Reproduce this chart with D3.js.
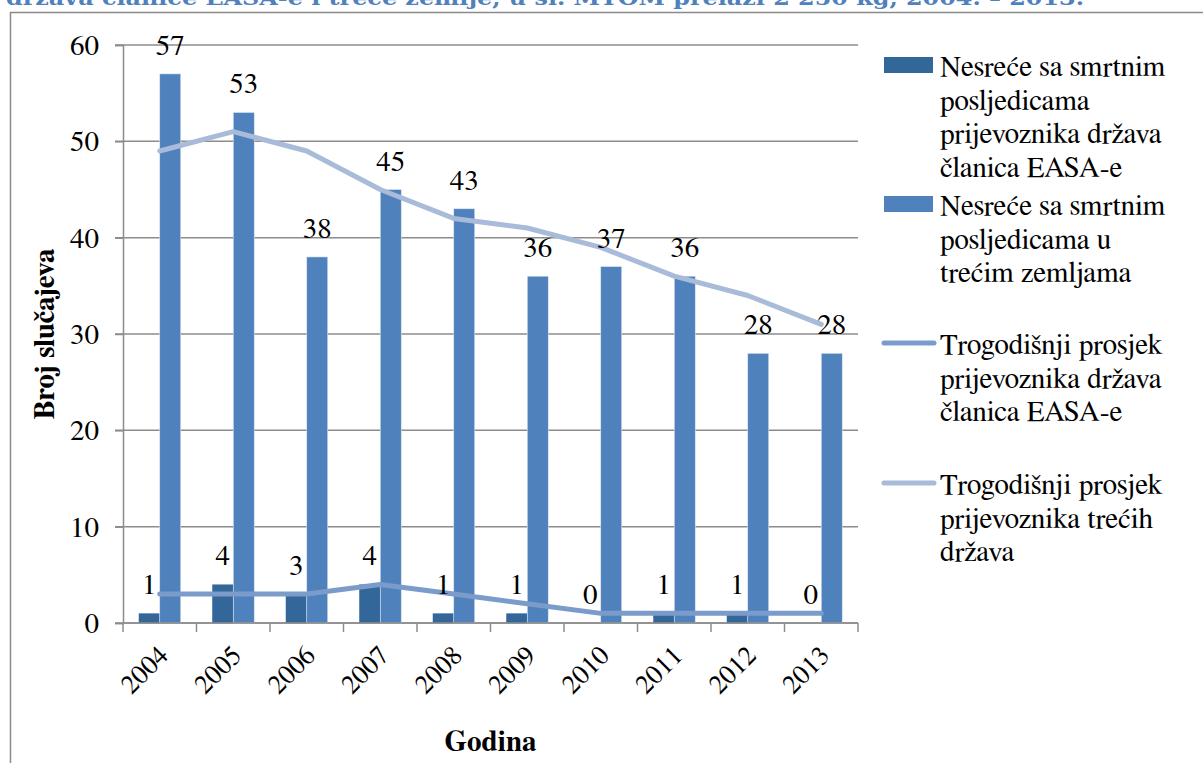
<!DOCTYPE html>
<html>
<head>
<meta charset="utf-8">
<script src="https://cdn.jsdelivr.net/npm/d3@7"></script>
</head>
<body style="margin:0;background:#fff">
<svg id="chart" width="1203" height="763" style="display:block"></svg>
<script>
// ---- data ----
const years = ["2004","2005","2006","2007","2008","2009","2010","2011","2012","2013"];
const easaAccidents = [1,4,3,4,1,1,0,1,1,0];
const thirdAccidents = [57,53,38,45,43,36,37,36,28,28];
const easaAvg = [3,3,3,4,3,2,1,1,1,1];
const thirdAvg = [49,51,49,45,42,41,39,36,34,31];
const yTicks = [0,10,20,30,40,50,60];
const seriesNames = [
  ["Nesreće sa smrtnim","posljedicama","prijevoznika država","članica EASA-e"],
  ["Nesreće sa smrtnim","posljedicama u","trećim zemljama"],
  ["Trogodišnji prosjek","prijevoznika država","članica EASA-e"],
  ["Trogodišnji prosjek","prijevoznika trećih","država"]
];
const titleText = "država članice EASA-e i treće zemlje, u sl. MTOM prelazi 2 250 kg, 2004. – 2013.";
const xTitle = "Godina";
const yTitle = "Broj slučajeva";

// ---- styles ----
const FONT = "Nimbus Roman, FreeSerif, Liberation Serif, Tinos, serif";
const cDark = "#336699", cLight = "#4F81BD", cLine1 = "#7B9BCB", cLine2 = "#A8BBD9";
const grid = "#8c8c8c";

const svg = d3.select("#chart");
const L = 123, R = 858, T = 45, B = 623;

function txt(sel, size, weight) {
  return sel.attr("font-family", FONT).attr("font-size", size)
    .attr("font-weight", weight || "normal").attr("fill", "#000");
}

// frame
svg.append("rect").attr("x", 10.5).attr("y", 12.5).attr("width", 1300).attr("height", 900)
  .attr("fill", "none").attr("stroke", "#8a8a8a").attr("stroke-width", 1.5);

const x0 = d3.scaleBand().domain(years).range([L, R]).paddingInner(0).paddingOuter(0);
const x1 = d3.scaleBand().domain(["a","b"]).range([0, x0.bandwidth()]).paddingInner(0).paddingOuter(0.75);
const y = d3.scaleLinear().domain([0, 60]).range([B, T]);

// gridlines
svg.append("g").selectAll("line").data(yTicks).join("line")
  .attr("x1", L - 8).attr("x2", R).attr("y1", d => y(d)).attr("y2", d => y(d))
  .attr("stroke", grid).attr("stroke-width", 1.5);

// y axis
const yAxis = svg.append("g").attr("transform", `translate(${L},0)`)
  .call(d3.axisLeft(y).tickValues(yTicks).tickSize(8).tickPadding(16));
yAxis.attr("font-family", FONT).attr("font-size", 29);
yAxis.select(".domain").attr("stroke", grid).attr("stroke-width", 1.5);
yAxis.selectAll(".tick line").attr("stroke", grid).attr("stroke-width", 1.5);
txt(yAxis.selectAll(".tick text"), 29).attr("dy", "0.33em");

// bars
const g = svg.append("g");
years.forEach((yr, i) => {
  g.append("rect").attr("x", x0(yr) + x1("a")).attr("width", x1.bandwidth())
    .attr("y", y(easaAccidents[i])).attr("height", B - y(easaAccidents[i]))
    .attr("fill", cDark);
  g.append("rect").attr("x", x0(yr) + x1("b")).attr("width", x1.bandwidth())
    .attr("y", y(thirdAccidents[i])).attr("height", B - y(thirdAccidents[i]))
    .attr("fill", cLight).attr("stroke", "#dfe8f3").attr("stroke-width", 0.6);
});

// x axis line + boundary ticks
svg.append("line").attr("x1", L).attr("x2", R).attr("y1", B).attr("y2", B)
  .attr("stroke", grid).attr("stroke-width", 1.5);
const bounds = years.map(d => x0(d)).concat([x0(years[years.length-1]) + x0.bandwidth()]);
svg.append("g").selectAll("line").data(bounds).join("line")
  .attr("x1", d => d).attr("x2", d => d).attr("y1", B).attr("y2", B + 9)
  .attr("stroke", grid).attr("stroke-width", 1.5);

// x tick labels
const xAxis = svg.append("g").attr("transform", `translate(0,${B})`)
  .call(d3.axisBottom(x0).tickSize(0).tickPadding(0));
xAxis.attr("font-family", FONT).attr("font-size", 27);
xAxis.select(".domain").remove();
txt(xAxis.selectAll(".tick text"), 27)
  .attr("text-anchor", "end").attr("dy", 0).attr("y", 0)
  .attr("transform", "translate(10,34) rotate(-45)");

// lines
const cx = d => x0(d) + x0.bandwidth() / 2;
const lineGen = arr => d3.line().x((d, i) => cx(years[i])).y(d => y(d))(arr);
svg.append("path").attr("d", lineGen(thirdAvg)).attr("fill", "none")
  .attr("stroke", cLine2).attr("stroke-width", 5).attr("stroke-linecap", "round").attr("stroke-linejoin", "round");
svg.append("path").attr("d", lineGen(easaAvg)).attr("fill", "none")
  .attr("stroke", cLine1).attr("stroke-width", 5).attr("stroke-linecap", "round").attr("stroke-linejoin", "round");

// data labels
years.forEach((yr, i) => {
  txt(svg.append("text"), 29).attr("x", x0(yr) + x1("a") + x1.bandwidth()/2).attr("y", y(easaAccidents[i]) - 19)
    .attr("text-anchor", "middle").text(easaAccidents[i]);
  txt(svg.append("text"), 29).attr("x", x0(yr) + x1("b") + x1.bandwidth()/2).attr("y", y(thirdAccidents[i]) - 19)
    .attr("text-anchor", "middle").text(thirdAccidents[i]);
});

// axis titles
txt(svg.append("text"), 29, "bold").attr("x", (L + R) / 2).attr("y", 751).attr("text-anchor", "middle").text(xTitle);
txt(svg.append("text"), 29, "bold").attr("transform", `translate(54,${(T + B) / 2}) rotate(-90)`)
  .attr("text-anchor", "middle").text(yTitle);

// legend
const lg = svg.append("g");
const entryTop = [76, 215, 354, 494];
const kinds = ["rect","rect","line","line"];
const colors = [cDark, cLight, cLine1, cLine2];
seriesNames.forEach((lines, k) => {
  const by = entryTop[k];
  if (kinds[k] === "rect") {
    lg.append("rect").attr("x", 884).attr("y", by - 19).attr("width", 49).attr("height", 16).attr("fill", colors[k]);
  } else {
    lg.append("line").attr("x1", 884).attr("x2", 934).attr("y1", by - 11).attr("y2", by - 11)
      .attr("stroke", colors[k]).attr("stroke-width", 5).attr("stroke-linecap", "round");
  }
  const t = txt(lg.append("text"), 29).attr("x", 940).attr("y", by);
  lines.forEach((s, j) => t.append("tspan").attr("x", 940).attr("dy", j === 0 ? 0 : 33.5).text(s));
});

// clipped caption at top (as in the reference, only its lower part is visible)
svg.append("text").attr("x", 6).attr("y", 5)
  .attr("textLength", 1078).attr("lengthAdjust", "spacingAndGlyphs")
  .attr("font-family", "DejaVu Serif").attr("font-weight", "bold")
  .attr("font-size", 21).attr("fill", "#4F81BD").text(titleText);
</script>
</body>
</html>
